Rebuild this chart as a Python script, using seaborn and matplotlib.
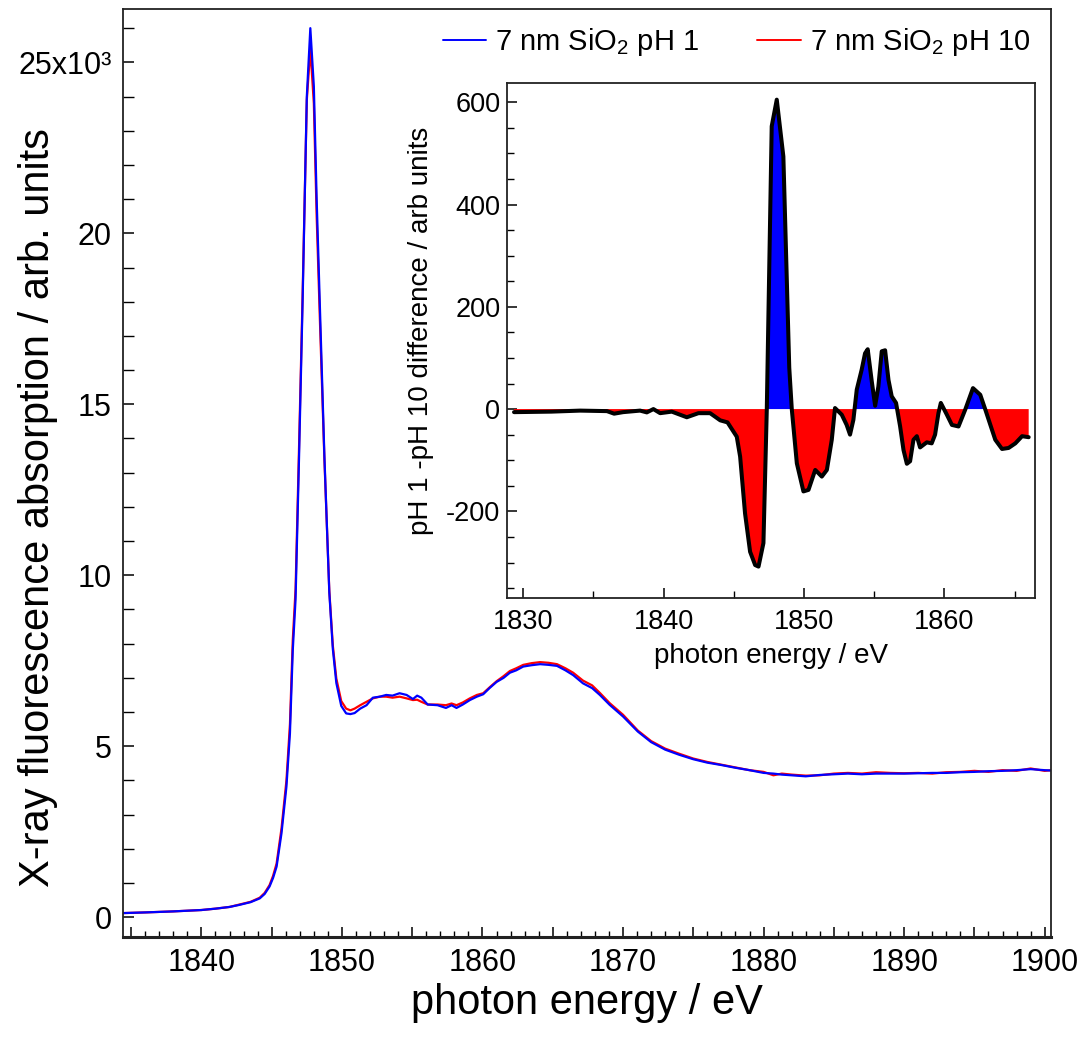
import numpy as np
import pandas as pd
import matplotlib
matplotlib.use("Agg")
import matplotlib.pyplot as plt
import seaborn as sns
from matplotlib import font_manager
from matplotlib.ticker import MultipleLocator, FuncFormatter

# ---------------- data ----------------
energy = [1834.4, 1836, 1838, 1840, 1841, 1842, 1842.7, 1843.5, 1844.15, 1844.5, 1844.85,
          1845.1, 1845.35, 1845.7, 1846.05, 1846.3, 1846.5, 1846.7, 1846.95, 1847.2, 1847.5,
          1847.75, 1848.0, 1848.2, 1848.42, 1848.75, 1849.1, 1849.35, 1849.6, 1849.95, 1850.3,
          1850.6, 1850.9, 1851.3, 1851.75, 1852.2, 1852.7, 1853.15, 1853.6, 1854.1, 1854.6,
          1855.05, 1855.35, 1855.65, 1856.1, 1856.8, 1857.4, 1857.8, 1858.15, 1858.6, 1859.1,
          1859.6, 1860.05, 1860.5, 1861.0, 1861.5, 1861.95, 1862.4, 1862.9, 1863.5, 1864.1,
          1864.7, 1865.3, 1865.9, 1866.45, 1867.15, 1867.8, 1868.35, 1869.05, 1870.0, 1871.05,
          1872, 1873, 1874, 1875, 1876, 1877, 1878, 1879, 1880, 1880.7, 1881.3, 1882, 1883,
          1884, 1885, 1886, 1887, 1888, 1889, 1890, 1891, 1892, 1893, 1894, 1895, 1896, 1897,
          1898, 1899, 1900, 1900.5]

ph1 = [0.12, 0.14, 0.17, 0.21, 0.25, 0.30, 0.36, 0.44, 0.55, 0.68, 0.90,
       1.15, 1.48, 2.46, 3.82, 5.38, 7.8, 9.3, 13.5, 18.0, 24.0,
       26.0, 24.3, 21.0, 18.0, 13.5, 9.5, 7.85, 6.85, 6.18, 5.96,
       5.94, 5.97, 6.10, 6.20, 6.42, 6.45, 6.50, 6.48, 6.55, 6.50,
       6.38, 6.48, 6.42, 6.22, 6.20, 6.12, 6.20, 6.12, 6.22, 6.35,
       6.45, 6.52, 6.70, 6.88, 7.00, 7.15, 7.22, 7.33, 7.37, 7.40,
       7.38, 7.35, 7.22, 7.08, 6.84, 6.70, 6.50, 6.21, 5.87, 5.43,
       5.12, 4.90, 4.75, 4.62, 4.52, 4.45, 4.37, 4.30, 4.22, 4.20, 4.17, 4.15, 4.12,
       4.16, 4.18, 4.20, 4.18, 4.20, 4.20, 4.20, 4.21, 4.22, 4.22, 4.24, 4.25, 4.27, 4.28,
       4.30, 4.33, 4.30, 4.29]

ph10 = [0.12, 0.14, 0.17, 0.21, 0.25, 0.30, 0.37, 0.45, 0.57, 0.71, 0.94,
        1.21, 1.57, 2.60, 4.00, 5.65, 8.1, 9.6, 13.8, 18.2, 23.9,
        25.4, 23.8, 20.5, 17.6, 13.4, 9.55, 7.95, 6.98, 6.32, 6.10,
        6.05, 6.10, 6.20, 6.30, 6.40, 6.45, 6.45, 6.42, 6.45, 6.40,
        6.35, 6.36, 6.30, 6.22, 6.22, 6.20, 6.25, 6.20, 6.28, 6.40,
        6.50, 6.55, 6.72, 6.90, 7.05, 7.20, 7.28, 7.38, 7.43, 7.46,
        7.44, 7.40, 7.28, 7.15, 6.92, 6.78, 6.56, 6.26, 5.92, 5.46,
        5.15, 4.93, 4.78, 4.64, 4.54, 4.46, 4.38, 4.30, 4.25, 4.15, 4.20, 4.17, 4.14,
        4.15, 4.20, 4.22, 4.20, 4.24, 4.22, 4.21, 4.22, 4.20, 4.24, 4.25, 4.28, 4.25, 4.30,
        4.28, 4.35, 4.28, 4.30]

diff_energy = [1829.34, 1832.0, 1834.05, 1835.96, 1836.47, 1837.11, 1838.32, 1838.8, 1839.27,
               1839.75, 1840.58, 1841.65, 1842.48, 1843.31, 1844.03, 1844.55, 1845.21, 1845.45,
               1845.8, 1846.16, 1846.52, 1846.76, 1847.11, 1847.35, 1847.70, 1848.06, 1848.53,
               1848.95, 1849.13, 1849.49, 1849.96, 1850.32, 1850.8, 1851.27, 1851.63, 1851.98,
               1852.21, 1852.69, 1853.04, 1853.28, 1853.52, 1853.76, 1854.11, 1854.35, 1854.54,
               1854.83, 1855.07, 1855.3, 1855.54, 1855.78, 1856.02, 1856.25, 1856.56, 1856.85,
               1857.09, 1857.33, 1857.56, 1857.8, 1858.04, 1858.27, 1858.75, 1859.1, 1859.34,
               1859.58, 1859.75, 1860.18, 1860.54, 1861.01, 1861.49, 1862.04, 1862.56, 1862.92,
               1863.28, 1863.63, 1864.11, 1864.58, 1865.06, 1865.54, 1866.01]
diff_values = [-6, -5, -3, -4, -9, -6, -3, -6.5, 0,
               -8, -5, -16, -8, -8, -22, -26, -54, -93,
               -204, -279, -305, -308, -262, 0, 553, 605, 494,
               81, 0, -106, -161, -158, -119, -132, -119, -60,
               2, -11, -31, -50, -21, 38, 77, 109, 117,
               54, 6.5, 44, 113, 115, 57, 25, 12, -34,
               -80, -107, -102, -60, -53, -75, -65, -67, -50,
               -8, 12, -11, -31, -34, -1, 41, 28, -1,
               -31, -60, -78, -76, -67, -53, -55]

label_ph1 = r"7 nm SiO$_2$ pH 1"
label_ph10 = r"7 nm SiO$_2$ pH 10"

# ---------------- style ----------------
sns.set_theme(style="ticks")
names = {f.name for f in font_manager.fontManager.ttflist}
narrow = "Liberation Sans Narrow" if "Liberation Sans Narrow" in names else "Liberation Sans"
plt.rcParams["font.family"] = ["Liberation Sans", "DejaVu Sans"]
plt.rcParams["mathtext.fontset"] = "custom"
plt.rcParams["mathtext.rm"] = "Liberation Sans"
plt.rcParams["mathtext.it"] = "Liberation Sans:italic"
plt.rcParams["mathtext.bf"] = "Liberation Sans:bold"
plt.rcParams["axes.unicode_minus"] = False
for k in ["text.color", "axes.labelcolor", "xtick.color", "ytick.color"]:
    plt.rcParams[k] = "black"

main_tick = 25 if narrow != "Liberation Sans" else 22
main_lab = 35 if narrow != "Liberation Sans" else 30

W, H = 1079, 1038
fig = plt.figure(figsize=(W / 100, H / 100), dpi=100)
fig.patch.set_facecolor("white")

# main axes
ax = fig.add_axes([122.7 / W, 1 - 936.7 / H, (1051 - 122.7) / W, (936.7 - 9) / H])
df_main = pd.DataFrame({"energy": energy, "pH1": ph1, "pH10": ph10})
sns.lineplot(data=df_main, x="energy", y="pH10", ax=ax, color="#ff0000", lw=1.6,
             label=label_ph10, estimator=None, sort=False)
sns.lineplot(data=df_main, x="energy", y="pH1", ax=ax, color="#0000ff", lw=1.6,
             label=label_ph1, estimator=None, sort=False)
ax.set_xlim(1834.4, 1900.45)
ax.set_ylim(-0.57, 26.56)
ax.set_facecolor("white")
for s in ax.spines.values():
    s.set_color("#222222")
    s.set_linewidth(1.3)
ax.spines["bottom"].set_linewidth(2.2)

ax.xaxis.set_major_locator(MultipleLocator(5))
ax.xaxis.set_minor_locator(MultipleLocator(1))
ax.xaxis.set_major_formatter(FuncFormatter(lambda v, p: f"{int(round(v))}" if round(v) % 10 == 0 else ""))
ax.yaxis.set_major_locator(MultipleLocator(5))
ax.yaxis.set_minor_locator(MultipleLocator(1))
ax.yaxis.set_major_formatter(FuncFormatter(lambda v, p: "25x10\u00b3" if round(v) == 25 else f"{int(round(v))}"))
ax.tick_params(axis="x", which="major", direction="in", length=7.5, width=1.1, pad=8,
               labelsize=main_tick, bottom=True, top=False)
ax.tick_params(axis="x", which="minor", direction="in", length=4.5, width=1.0, bottom=True, top=False)
ax.tick_params(axis="y", which="major", direction="in", length=8, width=1.1, pad=8,
               labelsize=main_tick, left=True, right=False)
ax.tick_params(axis="y", which="minor", direction="in", length=8, width=1.0, left=True, right=False)
for t in ax.get_xticklabels() + ax.get_yticklabels():
    t.set_fontfamily([narrow, "DejaVu Sans"])

ax.set_xlabel("photon energy / eV", fontsize=main_lab, family=[narrow, "DejaVu Sans"])
ax.set_ylabel("X-ray fluorescence absorption / arb. units", fontsize=main_lab,
              family=[narrow, "DejaVu Sans"])
ax.xaxis.set_label_coords(0.5, -0.05)
ax.yaxis.set_label_coords(-0.07, 0.463)

handles, labels = ax.get_legend_handles_labels()
order = [labels.index(label_ph1), labels.index(label_ph10)]
leg = ax.legend([handles[i] for i in order], [labels[i] for i in order], ncol=2, frameon=False,
                fontsize=21, handlelength=1.5, handletextpad=0.3, columnspacing=2.0,
                loc="center", bbox_to_anchor=(736.5 / W, 1 - 42 / H),
                bbox_transform=fig.transFigure, borderpad=0.2)
for l in leg.get_lines():
    l.set_linewidth(1.4)

# inset axes
ins = fig.add_axes([507.3 / W, 1 - 598.3 / H, (1035 - 507.3) / W, (598.3 - 83.3) / H])
ins.set_facecolor("white")
dx = np.array(diff_energy)
dy = np.array(diff_values)
ins.fill_between(dx, dy, 0, where=dy >= 0, interpolate=True, color="#0000ff", lw=0)
ins.fill_between(dx, dy, 0, where=dy <= 0, interpolate=True, color="#ff0000", lw=0)
df_diff = pd.DataFrame({"energy": diff_energy, "diff": diff_values})
sns.lineplot(data=df_diff, x="energy", y="diff", ax=ins, color="black", lw=2.9,
             estimator=None, sort=False, legend=False)
ins.set_xlim(1828.86, 1866.46)
ins.set_ylim(-370, 637)
for s in ins.spines.values():
    s.set_color("#222222")
    s.set_linewidth(1.3)
ins.xaxis.set_major_locator(MultipleLocator(10))
ins.xaxis.set_minor_locator(MultipleLocator(5))
ins.yaxis.set_major_locator(MultipleLocator(200))
ins.yaxis.set_minor_locator(MultipleLocator(50))
ins.tick_params(axis="both", which="major", direction="in", length=7.5, width=1.1,
                labelsize=19.5, top=False, right=False)
ins.tick_params(axis="x", which="major", pad=8)
ins.tick_params(axis="y", which="major", pad=5)
ins.tick_params(axis="x", which="minor", direction="in", length=5, width=1.0, top=False)
ins.tick_params(axis="y", which="minor", direction="in", length=5, width=1.0, right=False)
ins.set_xlabel("photon energy / eV", fontsize=20)
ins.set_ylabel("pH 1 -pH 10 difference / arb units", fontsize=20)
ins.xaxis.set_label_coords(0.5, -0.087)
ins.yaxis.set_label_coords(-0.139, 0.519)

fig.savefig("out.png", dpi=100, facecolor="white")
